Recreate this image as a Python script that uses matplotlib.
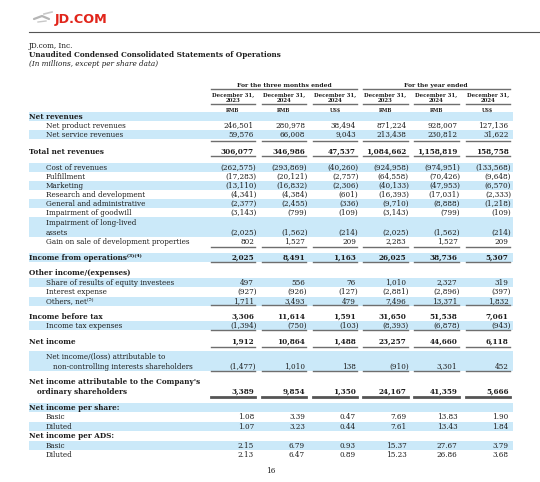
import matplotlib
matplotlib.use("Agg")
import matplotlib.pyplot as plt
from matplotlib.patches import Rectangle

# ---- data ----
col_dates = ["December 31,"] * 6
col_years = ["2023", "2024", "2024", "2023", "2024", "2024"]
col_currency = ["RMB", "RMB", "US$", "RMB", "RMB", "US$"]
group_titles = ["For the three months ended", "For the year ended"]

row_labels = [
    "Net revenues",
    "Net product revenues",
    "Net service revenues",
    "Total net revenues",
    "Cost of revenues",
    "Fulfillment",
    "Marketing",
    "Research and development",
    "General and administrative",
    "Impairment of goodwill",
    "Impairment of long-lived\nassets",
    "Gain on sale of development properties",
    "Income from operations\u207d\u00b3\u207e\u207d\u2074\u207e",
    "Other income/(expenses)",
    "Share of results of equity investees",
    "Interest expense",
    "Others, net\u207d\u2075\u207e",
    "Income before tax",
    "Income tax expenses",
    "Net income",
    "Net income/(loss) attributable to\nnon-controlling interests shareholders",
    "Net income attributable to the Company's\nordinary shareholders",
    "Net income per share:",
    "Basic",
    "Diluted",
    "Net income per ADS:",
    "Basic",
    "Diluted",
]

q4_2023_rmb = [None, 246501, 59576, 306077, -262575, -17283, -13110, -4341, -2377, -3143, -2025, 802,
               2025, None, 497, -927, 1711, 3306, -1394, 1912, -1477, 3389, None, 1.08, 1.07, None, 2.15, 2.13]
q4_2024_rmb = [None, 280978, 66008, 346986, -293869, -20121, -16832, -4384, -2455, -799, -1562, 1527,
               8491, None, 556, -926, 3493, 11614, -750, 10864, 1010, 9854, None, 3.39, 3.23, None, 6.79, 6.47]
q4_2024_usd = [None, 38494, 9043, 47537, -40260, -2757, -2306, -601, -336, -109, -214, 209,
               1163, None, 76, -127, 479, 1591, -103, 1488, 138, 1350, None, 0.47, 0.44, None, 0.93, 0.89]
fy2023_rmb = [None, 871224, 213438, 1084662, -924958, -64558, -40133, -16393, -9710, -3143, -2025, 2283,
              26025, None, 1010, -2881, 7496, 31650, -8393, 23257, -910, 24167, None, 7.69, 7.61, None, 15.37, 15.23]
fy2024_rmb = [None, 928007, 230812, 1158819, -974951, -70426, -47953, -17031, -8888, -799, -1562, 1527,
              38736, None, 2327, -2896, 13371, 51538, -6878, 44660, 3301, 41359, None, 13.83, 13.43, None, 27.67, 26.86]
fy2024_usd = [None, 127136, 31622, 158758, -133568, -9648, -6570, -2333, -1218, -109, -214, 209,
              5307, None, 319, -397, 1832, 7061, -943, 6118, 452, 5666, None, 1.90, 1.84, None, 3.79, 3.68]

columns = [q4_2023_rmb, q4_2024_rmb, q4_2024_usd, fy2023_rmb, fy2024_rmb, fy2024_usd]

# ---- layout (pixels) ----
row_y = [116, 125, 134, 151, 167, 176, 185, 194, 203, 212, 227, 241, 257, 272, 282, 291, 301, 316, 325,
         341, 361, 386, 407, 416, 426, 435, 445, 454]
row_indent = [29, 46, 46, 29, 46, 46, 46, 46, 46, 46, 46, 46, 29, 29, 46, 46, 46, 29, 46, 29, 46, 29,
              29, 46, 46, 29, 46, 46]
second_indent = {10: 46, 20: 53, 21: 37}
bold_label = {0, 3, 12, 13, 17, 19, 21, 22, 25}
bold_value = {3, 12, 17, 19, 21}
band_rows = {0, 2, 4, 6, 8, 10, 12, 14, 16, 18, 20, 22, 24, 26}
rule_after = {2: 141, 3: 156, 11: 247, 12: 261.5, 16: 305, 18: 330, 19: 347, 20: 371}
thick_rule = {21: 397}

col_left = [211, 262, 313, 363, 414, 466]
col_right = [255, 306, 357, 407.5, 458.5, 509.5]

BLUE = "#cbe9f9"
INK = "#1e1e1e"
RULE = "#6e6e6e"
SERIF = ["DejaVu Serif", "DejaVu Sans"]
FS = 5.2
BASE = 2.6   # baseline offset below the row centre


def fmt(v):
    if isinstance(v, float):
        return f"{v:.2f}"
    if v < 0:
        return f"({-v:,})"
    return f"{v:,}"


def put(x, y, s, **kw):
    opts = dict(fontsize=FS, family=SERIF, color=INK, va="baseline")
    opts.update(kw)
    ax.text(x, y + BASE, s, **opts)


fig = plt.figure(figsize=(5.4, 4.82), dpi=100)
ax = fig.add_axes([0, 0, 1, 1])
ax.set_xlim(0, 540)
ax.set_ylim(482, 0)
ax.axis("off")

# logo
ax.text(55, 20, "JD.COM", color="#e1251b", fontsize=9.2, fontweight="bold",
        family="DejaVu Sans", ha="left", va="center")
ax.plot([34, 42, 49], [19, 16, 19], color="#b5b5b5", lw=1.6, solid_capstyle="round")
ax.plot([44, 52], [14, 12], color="#c8c8c8", lw=1.2)
ax.plot([38, 46], [22, 21], color="#c8c8c8", lw=1.0)
ax.plot([29, 540], [32, 32], color="#555555", lw=0.8)

# titles
put(29, 45, "JD.com, Inc.")
put(29, 54, "Unaudited Condensed Consolidated Statements of Operations", fontweight="bold")
put(29, 63, "(In millions, except per share data)", style="italic")

# column header
for g, title in enumerate(group_titles):
    x0, x1 = col_left[3 * g], col_right[3 * g + 2]
    put((x0 + x1) / 2, 84.5, title, fontsize=4.4, fontweight="bold", ha="center")
    ax.plot([x0, x1], [88.5, 88.5], color=RULE, lw=1.0)
for i in range(6):
    xc = (col_left[i] + col_right[i]) / 2
    put(xc, 93.5, col_dates[i], fontsize=3.9, fontweight="bold", ha="center")
    put(xc, 99.5, col_years[i], fontsize=3.9, fontweight="bold", ha="center")
    ax.plot([col_left[i], col_right[i]], [104, 104], color=RULE, lw=1.0)
    put(xc, 109, col_currency[i], fontsize=3.5, fontweight="bold", ha="center")

# bands
for r in band_rows:
    if "\n" in row_labels[r]:
        top, bot = row_y[r] - 10, row_y[r] + 10
    else:
        top, bot = row_y[r] - 4.5, row_y[r] + 4.5
    ax.add_patch(Rectangle((29, top), 513 - 29, bot - top, color=BLUE, lw=0, zorder=0))

# rows
for r, label in enumerate(row_labels):
    y = row_y[r]
    weight = "bold" if r in bold_label else "normal"
    lines = label.split("\n")
    if len(lines) == 1:
        put(row_indent[r], y, label, fontweight=weight)
        vy = y
    else:
        put(row_indent[r], y - 5, lines[0], fontweight=weight)
        put(second_indent[r], y + 5, lines[1], fontweight=weight)
        vy = y + 5
    for c, col in enumerate(columns):
        v = col[r]
        if v is None:
            continue
        s = fmt(v)
        xr = col_right[c] - 1 + (2.5 if s.endswith(")") else 0)
        put(xr, vy, s, ha="right", fontweight="bold" if r in bold_value else "normal")
    for c in range(6):
        if r in rule_after:
            ax.plot([col_left[c], col_right[c]], [rule_after[r]] * 2, color=RULE, lw=1.0)
        if r in thick_rule:
            ax.plot([col_left[c], col_right[c]], [thick_rule[r]] * 2, color="#555555", lw=2.0)

put(271, 470, "16", ha="center")

fig.savefig("out.png", dpi=100)
